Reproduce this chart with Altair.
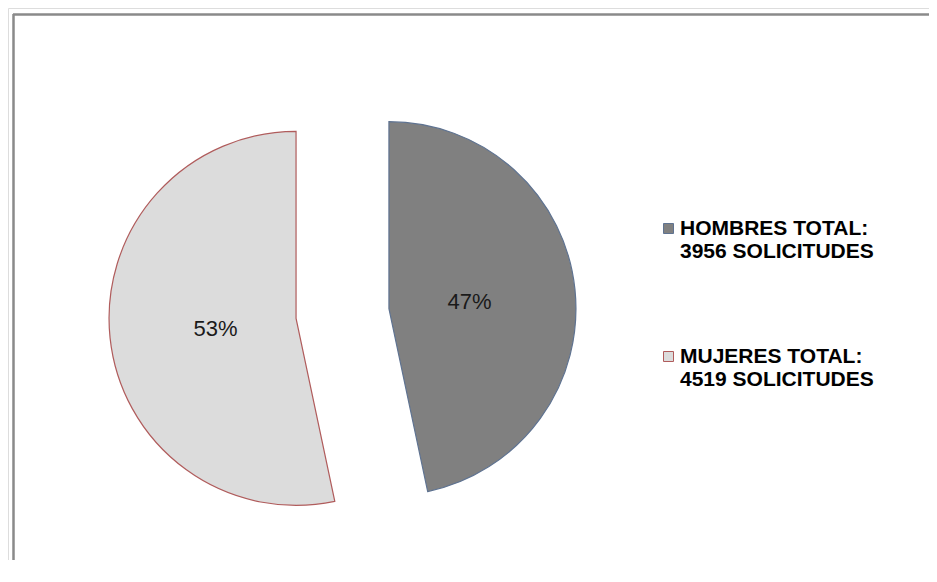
import altair as alt
import pandas as pd

# ---- data ----
categories = ["HOMBRES", "MUJERES"]
solicitudes = [3956, 4519]
percent_labels = ["47%", "53%"]

# ---- styling ----
fill_colors = ["#808080", "#dcdcdc"]
stroke_colors = ["#5f7391", "#b05c5c"]

legend_labels = [f"{c} TOTAL:\n{n} SOLICITUDES" for c, n in zip(categories, solicitudes)]

df = pd.DataFrame({
    "categoria": legend_labels,
    "valor": solicitudes,
    "pct": percent_labels,
    "orden": list(range(len(categories))),
})

W, H = 921, 552
CX, CY, R, EXPLODE, LABEL_R = 334.5, 305.5, 187, 46.7, 81

base = alt.Chart(df).transform_joinaggregate(
    total="sum(valor)"
).transform_window(
    fin="sum(valor)", sort=[alt.SortField("orden")]
).transform_calculate(
    a0="2 * PI * (datum.fin - datum.valor) / datum.total",
    a1="2 * PI * datum.fin / datum.total",
).transform_calculate(
    mid="(datum.a0 + datum.a1) / 2",
).transform_calculate(
    cx=f"{CX} + {EXPLODE} * sin(datum.mid)",
    cy=f"{CY} - {EXPLODE} * cos(datum.mid)",
).transform_calculate(
    lx=f"datum.cx + {LABEL_R} * sin(datum.mid)",
    ly=f"datum.cy - {LABEL_R} * cos(datum.mid)",
)

legend = alt.Legend(
    orient="none", legendX=650, legendY=210, title=None, padding=0,
    labelFont="Liberation Sans", labelFontWeight="bold", labelFontSize=21,
    labelColor="#000000", labelLimit=400, labelOffset=1,
    labelExpr="split(datum.label, '\\n')", labelBaseline="middle",
    symbolType="square", symbolSize=100, symbolStrokeWidth=1,
    rowPadding=83,
)

arcs = base.mark_arc(outerRadius=R, strokeWidth=1.2).encode(
    x=alt.X("cx:Q", scale=None),
    y=alt.Y("cy:Q", scale=None),
    theta=alt.Theta("a0:Q", scale=None),
    theta2="a1:Q",
    fill=alt.Fill("categoria:N", scale=alt.Scale(domain=legend_labels, range=fill_colors), legend=legend),
    stroke=alt.Stroke("categoria:N", scale=alt.Scale(domain=legend_labels, range=stroke_colors), legend=legend),
)

texts = base.mark_text(font="Liberation Sans", fontSize=22, color="#1a1a1a", dy=2).encode(
    x=alt.X("lx:Q", scale=None),
    y=alt.Y("ly:Q", scale=None),
    text="pct:N",
)

frame_top = alt.Chart(df).mark_rule(color="#8a8a8a", strokeWidth=2).encode(
    x=alt.value(5), x2=alt.value(W), y=alt.value(6.5)
)
frame_left = alt.Chart(df).mark_rule(color="#8a8a8a", strokeWidth=2).encode(
    x=alt.value(5.5), y=alt.value(6), y2=alt.value(H)
)

chart = alt.layer(frame_top, frame_left, arcs, texts).properties(
    width=W, height=H, padding=0,
    autosize=alt.AutoSizeParams(type="none"),
).configure_view(stroke=None).configure(background="white")

chart.save("out.html", embed_options={"renderer": "svg", "actions": False})
